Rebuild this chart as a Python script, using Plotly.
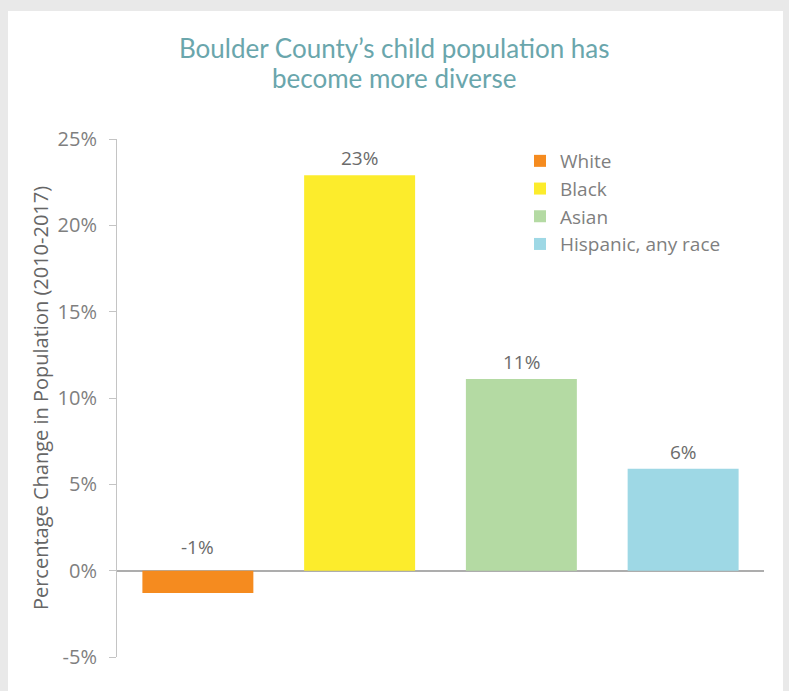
import plotly.graph_objects as go

categories = ["White", "Black", "Asian", "Hispanic, any race"]
values = [-1.3, 22.9, 11.1, 5.9]
labels = ["-1%", "23%", "11%", "6%"]
colors = ["#F58B1F", "#FCEC2C", "#B4DAA3", "#9ED8E5"]
tick_vals = [-5, 0, 5, 10, 15, 20, 25]
tick_text = ["-5%", "0%", "5%", "10%", "15%", "20%", "25%"]
title_lines = ["Boulder County’s child population has", "become more diverse"]

W, H = 789, 691
L, R, T, B = 117, 25, 139, 34
pw, ph = W - L - R, H - T - B

def px(x):
    return (x - L) / pw

def py(y):
    return (H - B - y) / ph

fig = go.Figure()
for c, v, col in zip(categories, values, colors):
    fig.add_trace(go.Bar(x=[c], y=[v], name=c, marker=dict(color=col, line=dict(width=0)),
                         width=0.686, hoverinfo="skip"))

annotations = []
for c, v, t in zip(categories, values, labels):
    annotations.append(dict(x=c, y=max(v, 0), text=t, showarrow=False, xref="x", yref="y",
                            yanchor="bottom", yshift=2 if v > 0 else 9,
                            font=dict(family="Open Sans", size=19, color="#6b6b6b")))
for i, line in enumerate(title_lines):
    annotations.append(dict(x=px(394), y=py(48 + 30 * i), xref="paper", yref="paper",
                            text=line, showarrow=False, xanchor="center", yanchor="middle",
                            font=dict(family="Lato", size=26, color="#6AA6AC")))

shapes = [
    dict(type="rect", xref="paper", yref="paper", x0=px(0), x1=px(8), y0=py(H), y1=py(0),
         fillcolor="#e9e9e9", line=dict(width=0), layer="below"),
    dict(type="rect", xref="paper", yref="paper", x0=px(0), x1=px(W), y0=py(11), y1=py(0),
         fillcolor="#e9e9e9", line=dict(width=0), layer="below"),
    dict(type="rect", xref="paper", yref="paper", x0=px(783), x1=px(W), y0=py(H), y1=py(0),
         fillcolor="#e9e9e9", line=dict(width=0), layer="below"),
]

fig.update_layout(
    width=W, height=H,
    margin=dict(l=L, r=R, t=T, b=B),
    paper_bgcolor="white", plot_bgcolor="white",
    barmode="overlay",
    xaxis=dict(visible=False, range=[-0.5, 3.5]),
    yaxis=dict(range=[-5, 25], tickvals=tick_vals, ticktext=tick_text,
               showgrid=False, showline=True, linecolor="#c4c4c4", linewidth=1,
               ticks="outside", ticklen=7, tickcolor="#c4c4c4", ticklabelstandoff=8,
               tickfont=dict(family="Open Sans", size=20, color="#7f7f7f"),
               zeroline=True, zerolinecolor="#adadad", zerolinewidth=2,
               title=dict(text="Percentage Change in Population (2010-2017)",
                          font=dict(family="Open Sans", size=20, color="#666666"), standoff=3)),
    legend=dict(x=px(520), y=py(142), xanchor="left", yanchor="top",
                font=dict(family="Open Sans", size=19, color="#7f7f7f"),
                bgcolor="rgba(0,0,0,0)", tracegroupgap=0, itemwidth=30),
    shapes=shapes,
    annotations=annotations,
    showlegend=True,
)

fig.write_html("out.html", config={"displayModeBar": False},
               post_script="document.body.style.margin='0';")
